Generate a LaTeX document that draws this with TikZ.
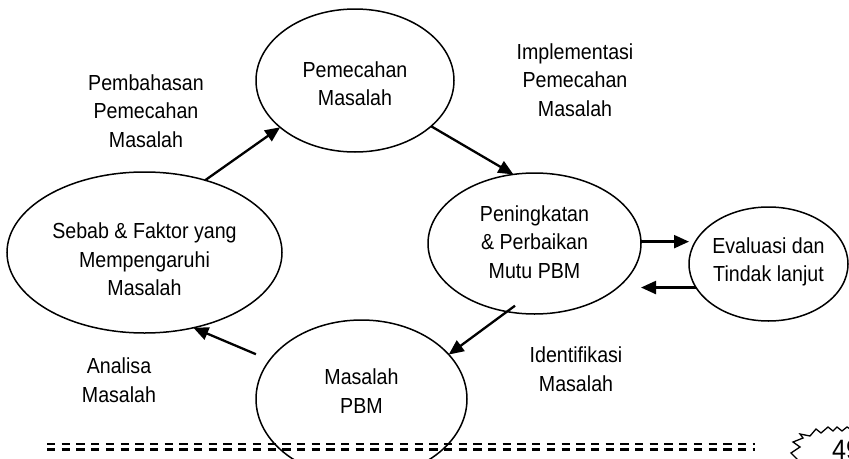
\documentclass[tikz,border=0pt]{standalone}
\usepackage{fontspec}
\setmainfont{Liberation Sans}[FakeStretch=0.9]
\usetikzlibrary{shapes.geometric,arrows.meta}
\begin{document}
\begin{tikzpicture}[x=1pt,y=-1pt,
  ell/.style={ellipse, draw, line width=1.5pt, inner sep=0pt, outer sep=0pt},
  lbl/.style={align=center, inner sep=0pt, font=\fontsize{21.8}{28.5}\selectfont},
  arr/.style={line width=2.3pt, -{Triangle[length=15pt,width=13pt]}},
  dashline/.style={line width=2.3pt, dash pattern=on 8.3pt off 6.4pt}
]
\useasboundingbox (0,0) rectangle (849,458);
\clip (0,0) rectangle (849,458);

% ellipses
\node[ell, minimum width=198pt, minimum height=143pt] (P) at (355,80.5) {};
\node[ell, minimum width=275pt, minimum height=161pt] (S) at (144.5,252.5) {};
\node[ell, minimum width=213pt, minimum height=141pt] (K) at (534.5,243.5) {};
\node[ell, minimum width=211pt, minimum height=158pt] (M) at (361.5,399) {};
\node[ell, minimum width=159pt, minimum height=114pt] (E) at (768.5,264) {};

% ellipse texts
\node[lbl] (Pt) at (355,83.7) {Pemecahan\\Masalah};
\node[lbl] (St) at (144.5,259.7) {Sebab \& Faktor yang\\Mempengaruhi\\Masalah};
\node[lbl] (Kt) at (534.5,242) {Peningkatan\\\& Perbaikan\\Mutu PBM};
\node[lbl] (Mt) at (361.5,391) {Masalah\\PBM};
\node[lbl] (Et) at (768.5,262) {Evaluasi dan\\Tindak lanjut};

% free labels
\node[lbl] (L1) at (146,111) {Pembahasan\\Pemecahan\\Masalah};
\node[lbl] (L2) at (575,80) {Implementasi\\Pemecahan\\Masalah};
\node[lbl] (L3) at (119,380) {Analisa\\Masalah};
\node[lbl] (L4) at (576,369) {Identifikasi\\Masalah};

% connectors
\draw[arr] (S.50) -- (P.212);
\draw[arr] (P.329) -- (K.107);
\draw[arr] (K.1) -- (K.1 -| E.west);
\draw[arr] (E.198) -- (E.198 -| K.east);
\draw[arr, shorten <=-10pt] (K.248) -- (M.27);
\draw[arr, shorten <=15pt] (M.157) -- (S.303);

% bottom double dashed line
\coordinate (d1) at (47,444);
\coordinate (d2) at (755,444);
\coordinate (d3) at (47,449.5);
\coordinate (d4) at (755,449.5);
\draw[dashline] (d1) -- (d2);
\draw[dashline] (d3) -- (d4);

% page number burst
\draw[line width=1.3pt, line join=miter]
  (798,460) -- (791,453) -- (800,447) -- (793,442) -- (803,438) -- (800,434)
  -- (810,436) -- (816,429) -- (821,433) -- (828,427) -- (833,431) -- (837,427)
  -- (842,431) -- (847,427) -- (852,430);
\node[anchor=base west, inner sep=0pt, font=\fontsize{28}{30}\selectfont] (pg) at (832,459) {49};
\end{tikzpicture}
\end{document}
